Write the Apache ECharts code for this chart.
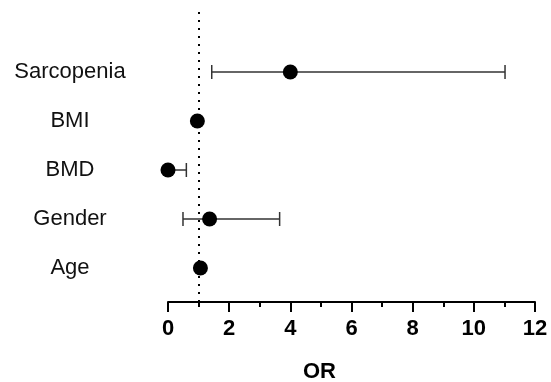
<!DOCTYPE html>
<html>
<head>
<meta charset="utf-8">
<script src="https://cdn.jsdelivr.net/npm/echarts@6/dist/echarts.min.js"></script>
<style>
  html, body { margin: 0; padding: 0; background: #fff; }
  #chart { width: 551px; height: 382px; }
</style>
</head>
<body>
<div id="chart"></div>
<script>
// rows listed bottom to top
const factors = ['Age', 'Gender', 'BMD', 'BMI', 'Sarcopenia']
const orValues = [1.06, 1.36, 0.0, 0.96, 4.0]
const ciLow = [1.02, 0.49, 0.0, 0.9, 1.43]
const ciHigh = [1.1, 3.65, 0.6, 1.02, 11.02]
const refLine = 1

const rowPos = factors.map((f, i) => i + 1)
const pointData = factors.map((f, i) => [orValues[i], rowPos[i]])
const barData = factors.map((f, i) => [ciLow[i], ciHigh[i], rowPos[i]])

let mycharts = echarts.init(document.getElementById('chart'))
let option = {
  animation: false,
  grid: { left: 168, right: 16, top: 12, bottom: 80, outerBoundsMode: 'none' },
  xAxis: {
    type: 'value',
    min: 0,
    max: 12,
    interval: 2,
    name: 'OR',
    nameLocation: 'middle',
    nameGap: 59,
    nameTextStyle: { fontFamily: 'Liberation Sans', fontWeight: 'bold', fontSize: 22, color: '#000', padding: [0, 64, 0, 0] },
    axisLine: { show: true, lineStyle: { color: '#000', width: 2 } },
    axisTick: { show: true, length: 10, lineStyle: { color: '#000', width: 2 } },
    minorTick: { show: true, splitNumber: 2, length: 5, lineStyle: { color: '#000', width: 2 } },
    axisLabel: { margin: 16, fontFamily: 'Liberation Sans', fontWeight: 'bold', fontSize: 22, color: '#000' },
    splitLine: { show: false }
  },
  yAxis: {
    type: 'value',
    min: 0.306,
    max: 6.225,
    axisLine: { show: false },
    axisTick: { show: false },
    splitLine: { show: false },
    axisLabel: {
      customValues: rowPos,
      formatter: v => factors[Math.round(v) - 1] || '',
      align: 'center',
      margin: 98,
      fontFamily: 'Liberation Sans',
      fontSize: 22,
      color: '#111'
    }
  },
  series: [
    {
      // confidence interval whiskers
      type: 'custom',
      clip: false,
      data: barData,
      renderItem: function (params, api) {
        const y = api.value(2)
        const a = api.coord([api.value(0), y])
        const b = api.coord([api.value(1), y])
        const h = 7
        const st = { stroke: '#333', lineWidth: 1.5 }
        return {
          type: 'group',
          children: [
            { type: 'line', shape: { x1: a[0], y1: a[1], x2: b[0], y2: b[1] }, style: st },
            { type: 'line', shape: { x1: a[0], y1: a[1] - h, x2: a[0], y2: a[1] + h }, style: st },
            { type: 'line', shape: { x1: b[0], y1: b[1] - h, x2: b[0], y2: b[1] + h }, style: st }
          ]
        }
      }
    },
    {
      type: 'scatter',
      clip: false,
      symbolSize: 15,
      itemStyle: { color: '#000', opacity: 1 },
      data: pointData,
      z: 5,
      markLine: {
        silent: true,
        symbol: 'none',
        label: { show: false },
        lineStyle: { color: '#000', width: 2, type: [2, 6] },
        data: [{ xAxis: refLine }]
      }
    }
  ]
}
mycharts.setOption(option)
window.addEventListener('resize', function () {
  mycharts.resize()
})
</script>
</body>
</html>
